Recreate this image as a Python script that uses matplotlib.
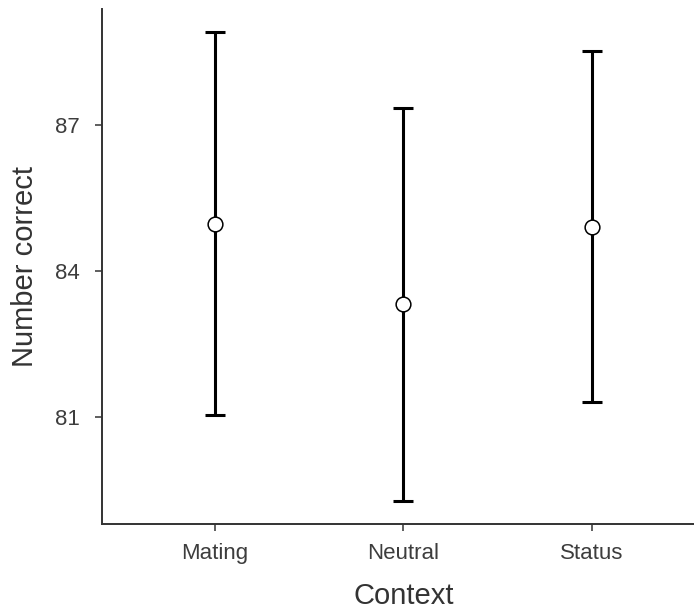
import matplotlib
matplotlib.use("Agg")
import matplotlib.pyplot as plt

plt.rcParams['font.family'] = ['Liberation Sans', 'DejaVu Sans']

# group means and error bar half-widths
contexts = ["Mating", "Neutral", "Status"]
means = [84.97, 83.31, 84.91]
errors = [3.93, 4.03, 3.61]

fig = plt.figure(figsize=(6.94, 6.11), dpi=100)
ax = fig.add_axes([101.7 / 694, 87 / 611, (705 - 101.7) / 694, 515 / 611])

xpos = list(range(1, len(contexts) + 1))
ax.errorbar(xpos, means, yerr=errors, fmt="none", ecolor="black",
            elinewidth=2.2, capsize=6.9, capthick=2.2, zorder=2)
ax.plot(xpos, means, "o", ms=10.6, mfc="white", mec="black", mew=1.1, zorder=3)

ax.set_xlim(0.4, 3.6)
ax.set_ylim(78.8, 89.38)
ax.set_xticks(xpos)
ax.set_xticklabels(contexts)
ax.set_yticks([81, 84, 87])

for side in ("top", "right"):
    ax.spines[side].set_visible(False)
for side in ("left", "bottom"):
    ax.spines[side].set_color("#333333")
    ax.spines[side].set_linewidth(1.4)

ax.tick_params(length=5, width=1.1, color="#333333", labelsize=16,
               labelcolor="#3d3d3d")
ax.tick_params(axis="x", pad=9)
ax.tick_params(axis="y", pad=11)

ax.set_xlabel("Context", fontsize=21, color="#333333", labelpad=13)
ax.set_ylabel("Number correct", fontsize=21, color="#333333", labelpad=11)

fig.savefig("out.png", dpi=100)
